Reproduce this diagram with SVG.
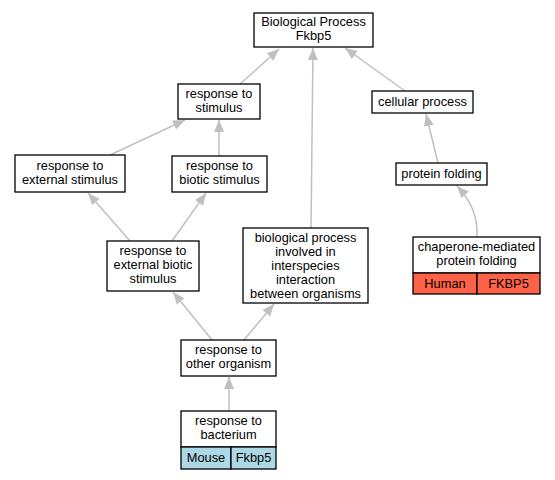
<svg xmlns="http://www.w3.org/2000/svg" width="555" height="480" viewBox="0 0 555 480">
<style>
.n{fill:#fff;stroke:#000;stroke-width:1.3}
.t{font-family:"Liberation Sans",Arial,sans-serif;font-size:12.8px;fill:#000;text-anchor:middle}
.e{fill:none;stroke:#c0c0c0;stroke-width:1.5}
.hu{fill:#ff6347;stroke:#000;stroke-width:1.3}
.mo{fill:#add8e6;stroke:#000;stroke-width:1.3}
</style>
<defs>
<marker id="a" markerUnits="userSpaceOnUse" markerWidth="14" markerHeight="12" refX="12" refY="6" orient="auto">
<path d="M0,1 L12,6 L0,11 Z" fill="#c0c0c0"/>
</marker>
</defs>
<rect width="555" height="480" fill="#fff"/>
<g id="edges">
<path class="e" d="M240,84 L279,49" marker-end="url(#a)"/>
<path class="e" d="M311,228 L313,48" marker-end="url(#a)"/>
<path class="e" d="M405,91 L345,48" marker-end="url(#a)"/>
<path class="e" d="M110,155 L185,120" marker-end="url(#a)"/>
<path class="e" d="M219,156 L219,120" marker-end="url(#a)"/>
<path class="e" d="M130,241 L88,193" marker-end="url(#a)"/>
<path class="e" d="M172,241 L206,193" marker-end="url(#a)"/>
<path class="e" d="M212,340 L173,292" marker-end="url(#a)"/>
<path class="e" d="M244,340 L274,304" marker-end="url(#a)"/>
<path class="e" d="M229,411 L229,377" marker-end="url(#a)"/>
<path class="e" d="M438,163 L426,114" marker-end="url(#a)"/>
<path class="e" d="M477,237 C478,215 470,200 457,186" marker-end="url(#a)"/>
</g>
<g id="bp">
<rect class="n" x="254" y="13" width="119" height="34"/>
<text class="t" x="313.5" y="26">Biological Process</text>
<text class="t" x="313.5" y="40">Fkbp5</text>
</g>
<g id="rs">
<rect class="n" x="178" y="84" width="82" height="35"/>
<text class="t" x="219" y="98">response to</text>
<text class="t" x="219" y="112">stimulus</text>
</g>
<g id="cp">
<rect class="n" x="372" y="91" width="101" height="22"/>
<text class="t" x="422.5" y="106">cellular process</text>
</g>
<g id="res">
<rect class="n" x="15" y="155" width="110" height="37"/>
<text class="t" x="70" y="170">response to</text>
<text class="t" x="70" y="184">external stimulus</text>
</g>
<g id="rbs">
<rect class="n" x="172" y="156" width="95" height="36"/>
<text class="t" x="219.5" y="170">response to</text>
<text class="t" x="219.5" y="184">biotic stimulus</text>
</g>
<g id="pf">
<rect class="n" x="396" y="163" width="91" height="22"/>
<text class="t" x="441.5" y="178">protein folding</text>
</g>
<g id="rebs">
<rect class="n" x="107" y="241" width="92" height="50"/>
<text class="t" x="153" y="255">response to</text>
<text class="t" x="153" y="269">external biotic</text>
<text class="t" x="153" y="283">stimulus</text>
</g>
<g id="bpi">
<rect class="n" x="243" y="228" width="125" height="75"/>
<text class="t" x="305.5" y="242">biological process</text>
<text class="t" x="305.5" y="256">involved in</text>
<text class="t" x="305.5" y="270">interspecies</text>
<text class="t" x="305.5" y="284">interaction</text>
<text class="t" x="305.5" y="298">between organisms</text>
</g>
<g id="cmpf">
<rect class="n" x="413" y="237" width="127" height="36"/>
<rect class="hu" x="413" y="273" width="64" height="21"/>
<rect class="hu" x="477" y="273" width="63" height="21"/>
<text class="t" x="476.5" y="251">chaperone-mediated</text>
<text class="t" x="476.5" y="265">protein folding</text>
<text class="t" x="445" y="288">Human</text>
<text class="t" x="508.5" y="288">FKBP5</text>
</g>
<g id="roo">
<rect class="n" x="181" y="340" width="95" height="36"/>
<text class="t" x="228.5" y="354">response to</text>
<text class="t" x="228.5" y="368">other organism</text>
</g>
<g id="rb">
<rect class="n" x="181" y="411" width="95" height="36"/>
<rect class="mo" x="181" y="447" width="50" height="22"/>
<rect class="mo" x="231" y="447" width="45" height="22"/>
<text class="t" x="228.5" y="425">response to</text>
<text class="t" x="228.5" y="439">bacterium</text>
<text class="t" x="206" y="462">Mouse</text>
<text class="t" x="253.5" y="462">Fkbp5</text>
</g>
</svg>
